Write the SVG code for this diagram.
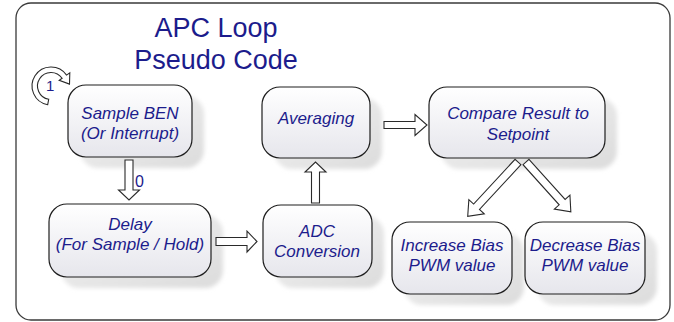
<svg xmlns="http://www.w3.org/2000/svg" width="674" height="322" viewBox="0 0 674 322">
<defs>
<linearGradient id="boxg" x1="0" y1="0" x2="0" y2="1">
<stop offset="0" stop-color="#ffffff"/>
<stop offset="1" stop-color="#e6e6ec"/>
</linearGradient>
<linearGradient id="shg" x1="0" y1="0" x2="1" y2="1">
<stop offset="0" stop-color="#f2f2f2"/>
<stop offset="1" stop-color="#dcdcdc"/>
</linearGradient>
<filter id="blur" x="-20%" y="-20%" width="140%" height="140%">
<feGaussianBlur stdDeviation="2"/>
</filter>
</defs>
<style>
.frame{fill:#ffffff;stroke:#3a3a3a;stroke-width:1.3}
.box{fill:url(#boxg);stroke:#1e1e1e;stroke-width:1.2}
.shadow{fill:url(#shg);filter:url(#blur)}
.t{font-family:"Liberation Sans",Arial,sans-serif;font-style:italic;font-size:17px;fill:#1c1c8c;text-anchor:middle}
.title{font-family:"Liberation Sans",Arial,sans-serif;font-size:27px;fill:#1c1c8c;text-anchor:middle}
.lbl{font-family:"Liberation Sans",Arial,sans-serif;font-size:16px;fill:#1c1c8c}
.arr{fill:#ffffff;stroke:#2a2a2a;stroke-width:1.1;stroke-linejoin:miter}
</style>
<rect class="frame" x="16" y="3" width="654" height="317" rx="15"/>
<g id="title">
<text class="title" x="216" y="37">APC Loop</text>
<text class="title" x="216" y="69">Pseudo Code</text>
</g>
<g id="loop">
<path class="arr" d="M47.7,104.7 A19,19 0 1 1 66.6,75.1 L69.8,72.8 L69.5,84.1 L59.2,80.3 L62.1,78.3 A13.5,13.5 0 1 0 48.7,99.3 Z"/>
<text class="lbl" x="46" y="91" style="font-size:15px">1</text>
</g>
<g id="sample">
<rect class="shadow" x="80" y="96" width="124" height="72" rx="18"/>
<rect class="box" x="68" y="85" width="124" height="72" rx="18"/>
<text class="t" x="130" y="119">Sample BEN</text>
<text class="t" x="130" y="139">(Or Interrupt)</text>
</g>
<g id="averaging">
<rect class="shadow" x="274" y="98" width="108" height="71" rx="18"/>
<rect class="box" x="262" y="87" width="108" height="71" rx="18"/>
<text class="t" x="316" y="124">Averaging</text>
</g>
<g id="compare">
<rect class="shadow" x="441" y="98" width="176" height="71" rx="18"/>
<rect class="box" x="429" y="87" width="176" height="71" rx="18"/>
<text class="t" x="518" y="119">Compare Result to</text>
<text class="t" x="518" y="140">Setpoint</text>
</g>
<g id="delay">
<rect class="shadow" x="61" y="215" width="162" height="73" rx="18"/>
<rect class="box" x="49" y="204" width="162" height="73" rx="18"/>
<text class="t" x="130" y="230">Delay</text>
<text class="t" x="130" y="250">(For Sample / Hold)</text>
</g>
<g id="adc">
<rect class="shadow" x="275" y="216" width="109" height="72" rx="18"/>
<rect class="box" x="263" y="205" width="109" height="72" rx="18"/>
<text class="t" x="317" y="237">ADC</text>
<text class="t" x="317" y="257">Conversion</text>
</g>
<g id="increase">
<rect class="shadow" x="404" y="233" width="120" height="72" rx="18"/>
<rect class="box" x="392" y="222" width="120" height="72" rx="18"/>
<text class="t" x="452" y="251">Increase Bias</text>
<text class="t" x="452" y="271">PWM value</text>
</g>
<g id="decrease">
<rect class="shadow" x="537" y="233" width="120" height="72" rx="18"/>
<rect class="box" x="525" y="222" width="120" height="72" rx="18"/>
<text class="t" x="585" y="251">Decrease Bias</text>
<text class="t" x="585" y="271">PWM value</text>
</g>
<g id="connectors">
<polygon class="arr" transform="translate(129,160) rotate(90)" points="0,-4 30,-4 30,-10.5 40,0 30,10.5 30,4 0,4"/>
<text class="lbl" x="135" y="187">0</text>
<polygon class="arr" transform="translate(216,241.5)" points="0,-4 31,-4 31,-10.5 41,0 31,10.5 31,4 0,4"/>
<polygon class="arr" transform="translate(315.5,203) rotate(-90)" points="0,-4 31,-4 31,-10.5 41,0 31,10.5 31,4 0,4"/>
<polygon class="arr" transform="translate(384,125)" points="0,-3.5 31,-3.5 31,-10.5 43,0 31,10.5 31,3.5 0,3.5"/>
<polygon class="arr" transform="translate(518,162) rotate(132.8)" points="0,-4 61,-4 61,-10.5 74,0 61,10.5 61,4 0,4"/>
<polygon class="arr" transform="translate(526,162) rotate(48)" points="0,-4 54,-4 54,-10.5 67,0 54,10.5 54,4 0,4"/>
</g>
</svg>
